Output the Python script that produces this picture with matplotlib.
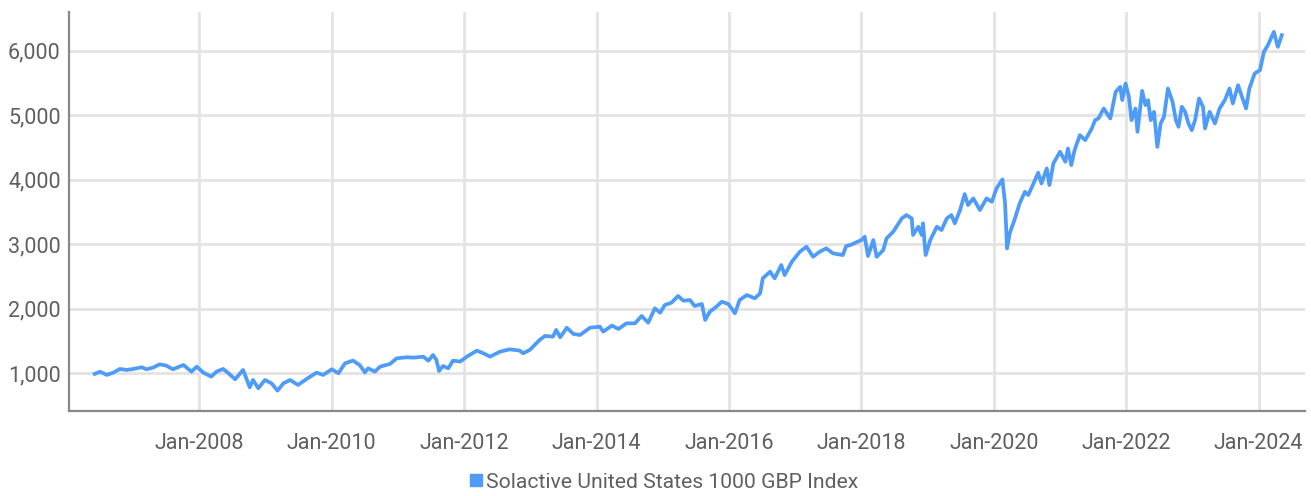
import matplotlib
matplotlib.use("Agg")
import matplotlib.pyplot as plt
from matplotlib.ticker import FuncFormatter, FixedLocator

# index level (decimal year, value)
years = [
    2006.42, 2006.50, 2006.60, 2006.70, 2006.80, 2006.90, 2007.00, 2007.13, 2007.20, 2007.30,
    2007.40, 2007.50, 2007.60, 2007.76, 2007.88, 2007.96, 2008.06, 2008.18, 2008.26, 2008.36,
    2008.44, 2008.54, 2008.66, 2008.76, 2008.81, 2008.89, 2008.99, 2009.09, 2009.18, 2009.27,
    2009.37, 2009.49, 2009.62, 2009.77, 2009.87, 2010.00, 2010.10, 2010.20, 2010.32, 2010.42,
    2010.50, 2010.55, 2010.65, 2010.73, 2010.88, 2010.98, 2011.13, 2011.25, 2011.38, 2011.46,
    2011.53, 2011.58, 2011.62, 2011.68, 2011.76, 2011.83, 2011.94, 2012.04, 2012.19, 2012.29,
    2012.39, 2012.54, 2012.69, 2012.84, 2012.89, 2012.99, 2013.14, 2013.22, 2013.34, 2013.39,
    2013.45, 2013.55, 2013.65, 2013.75, 2013.90, 2014.05, 2014.10, 2014.23, 2014.33, 2014.45,
    2014.58, 2014.68, 2014.78, 2014.88, 2014.96, 2015.03, 2015.13, 2015.23, 2015.31, 2015.41,
    2015.48, 2015.59, 2015.64, 2015.71, 2015.81, 2015.89, 2015.99, 2016.09, 2016.16, 2016.27,
    2016.39, 2016.47, 2016.51, 2016.62, 2016.69, 2016.79, 2016.84, 2016.95, 2017.07, 2017.17,
    2017.27, 2017.37, 2017.47, 2017.57, 2017.72, 2017.77, 2017.83, 2018.00, 2018.05, 2018.10,
    2018.18, 2018.23, 2018.33, 2018.38, 2018.48, 2018.61, 2018.68, 2018.76, 2018.78, 2018.86,
    2018.91, 2018.93, 2018.97, 2019.04, 2019.14, 2019.21, 2019.29, 2019.36, 2019.41, 2019.49,
    2019.56, 2019.61, 2019.69, 2019.79, 2019.89, 2019.97, 2020.04, 2020.13, 2020.17, 2020.20,
    2020.24, 2020.32, 2020.39, 2020.47, 2020.52, 2020.60, 2020.67, 2020.72, 2020.80, 2020.84,
    2020.90, 2021.00, 2021.08, 2021.12, 2021.17, 2021.22, 2021.30, 2021.38, 2021.48, 2021.53,
    2021.58, 2021.66, 2021.76, 2021.84, 2021.91, 2021.94, 2021.99, 2022.04, 2022.08, 2022.14,
    2022.17, 2022.24, 2022.29, 2022.33, 2022.37, 2022.42, 2022.47, 2022.52, 2022.57, 2022.63,
    2022.70, 2022.75, 2022.79, 2022.84, 2022.89, 2022.94, 2022.99, 2023.04, 2023.10, 2023.16,
    2023.19, 2023.26, 2023.34, 2023.41, 2023.49, 2023.56, 2023.61, 2023.69, 2023.74, 2023.81,
    2023.86, 2023.94, 2024.02, 2024.08, 2024.14, 2024.23, 2024.29, 2024.35,
]
values = [
    985, 1020, 970, 1005, 1062, 1047, 1062, 1088, 1057, 1083,
    1134, 1114, 1057, 1124, 1021, 1098, 1005, 943, 1021, 1062,
    995, 902, 1047, 778, 891, 762, 891, 840, 726, 840,
    891, 814, 907, 1005, 969, 1057, 995, 1150, 1191, 1124,
    1010, 1072, 1021, 1098, 1140, 1227, 1243, 1238, 1253, 1191,
    1279, 1202, 1031, 1108, 1072, 1191, 1176, 1253, 1346, 1305,
    1253, 1330, 1367, 1346, 1305, 1357, 1512, 1574, 1563, 1667,
    1553, 1702, 1605, 1589, 1702, 1718, 1641, 1734, 1682, 1770,
    1770, 1884, 1780, 2003, 1935, 2054, 2090, 2194, 2121, 2132,
    2039, 2070, 1822, 1950, 2028, 2105, 2070, 1926, 2132, 2209,
    2158, 2235, 2468, 2571, 2468, 2674, 2519, 2726, 2881, 2958,
    2803, 2881, 2933, 2856, 2829, 2969, 2984, 3062, 3114, 2814,
    3062, 2803, 2907, 3088, 3191, 3398, 3450, 3398, 3140, 3269,
    3140, 3321, 2829, 3062, 3269, 3217, 3398, 3450, 3321, 3527,
    3775, 3605, 3708, 3527, 3708, 3656, 3863, 4002, 3630, 2933,
    3166, 3398, 3630, 3811, 3760, 3941, 4106, 3941, 4173, 3915,
    4251, 4431, 4276, 4483, 4225, 4457, 4690, 4612, 4793, 4922,
    4948, 5103, 4948, 5361, 5439, 5233, 5491, 5284, 4922, 5103,
    4741, 5377, 5155, 5233, 4922, 5051, 4508, 4871, 4974, 5413,
    5206, 4922, 4819, 5129, 5051, 4871, 4767, 4922, 5258, 5129,
    4793, 5051, 4871, 5103, 5233, 5413, 5181, 5464, 5310, 5103,
    5413, 5646, 5698, 5982, 6086, 6292, 6059, 6240,
]
series_name = "Solactive United States 1000 GBP Index"
tick_years = [2008, 2010, 2012, 2014, 2016, 2018, 2020, 2022, 2024]
y_ticks = [1000, 2000, 3000, 4000, 5000, 6000]

plt.rcParams['font.family'] = ['Roboto', 'DejaVu Sans']

fig = plt.figure(figsize=(13.11, 4.96), dpi=100)
ax = fig.add_axes([0.0526, 0.1714, 0.9428, 0.8044])

line_color = "#4e9cf8"
ax.plot(years, values, color=line_color, lw=2.7, label=series_name, zorder=3)

ax.set_xlim(2006.03, 2024.70)
ax.set_ylim(410, 6600)
ax.xaxis.set_major_locator(FixedLocator(tick_years))
ax.xaxis.set_major_formatter(FuncFormatter(lambda v, p: "Jan-%d" % round(v)))
ax.yaxis.set_major_locator(FixedLocator(y_ticks))
ax.yaxis.set_major_formatter(FuncFormatter(lambda v, p: "{:,.0f}".format(v)))

ax.grid(True, color="#e3e3e3", lw=2, zorder=0)
ax.tick_params(length=0, labelsize=15.5, colors="#5f5f5f")
ax.tick_params(axis="x", pad=16)
ax.tick_params(axis="y", pad=6)
for s in ["top", "right"]:
    ax.spines[s].set_visible(False)
for s in ["left", "bottom"]:
    ax.spines[s].set_color("#888888")
    ax.spines[s].set_linewidth(1.6)

handle = plt.Line2D([], [], marker="s", ls="", color=line_color, markersize=8)
fig.legend([handle], [series_name], loc="center", bbox_to_anchor=(0.505, 0.028),
           frameon=False, fontsize=15.2, handletextpad=0.0, handlelength=1.0,
           labelcolor="#5f5f5f")

fig.savefig("out.png", dpi=100)
